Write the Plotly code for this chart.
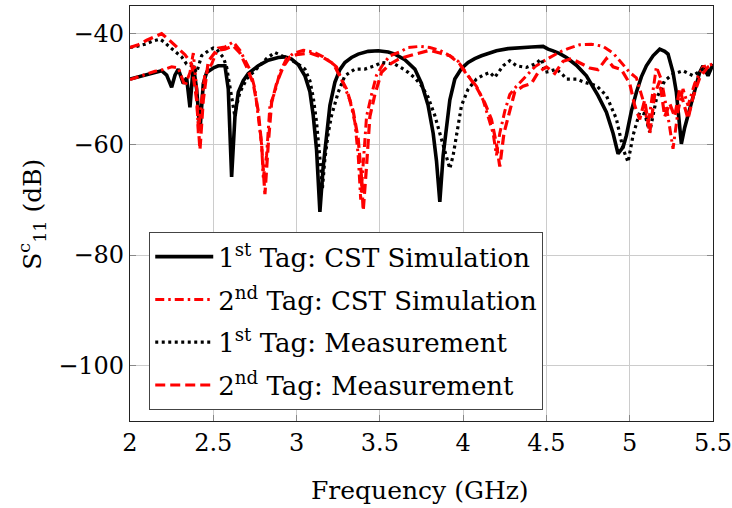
import plotly.graph_objects as go

# ---- data ----
x_cst1 = [2.00,2.05,2.10,2.15,2.19,2.22,2.25,2.27,2.29,2.32,2.34,2.36,2.38,2.40,2.42,2.44,2.46,2.50,2.53,2.57,2.59,2.61,2.63,2.65,2.68,2.71,2.77,2.83,2.89,2.93,2.97,3.01,3.05,3.08,3.10,3.12,3.14,3.16,3.18,3.20,3.23,3.26,3.29,3.33,3.37,3.43,3.49,3.55,3.59,3.65,3.71,3.75,3.79,3.82,3.84,3.86,3.88,3.90,3.92,3.95,3.99,4.03,4.07,4.11,4.16,4.20,4.27,4.34,4.41,4.48,4.51,4.54,4.58,4.62,4.68,4.74,4.78,4.81,4.86,4.90,4.93,4.96,4.98,5.01,5.04,5.07,5.10,5.14,5.18,5.21,5.23,5.26,5.28,5.30,5.31,5.33,5.35,5.38,5.40,5.42,5.44,5.47,5.50]
y_cst1 = [-48.2,-47.8,-47.3,-47.0,-46.7,-47.5,-49.7,-47.5,-46.4,-49.0,-48.0,-53.3,-45.8,-50,-57.5,-49,-47,-46.2,-45.8,-45.8,-50,-65.9,-55,-50.6,-48.5,-47.2,-45.8,-44.8,-44.3,-44.2,-44.6,-45.6,-47.6,-50.5,-54.8,-61,-72.2,-64,-58.4,-53,-48.8,-46.5,-45.2,-44.3,-43.7,-43.2,-43.1,-43.3,-43.7,-44.7,-46.4,-49,-53,-58,-63,-70.4,-62,-56.6,-52,-48.2,-46.3,-45.2,-44.5,-44.0,-43.5,-43.1,-42.7,-42.5,-42.4,-42.3,-42.8,-43.1,-43.6,-44.3,-45.7,-47.6,-49.5,-51.2,-54.2,-58,-61.7,-60.5,-58.4,-54,-50.6,-47.8,-45.8,-44,-42.8,-43.2,-43.7,-47,-50.6,-56,-59.9,-57,-54.8,-51,-48.8,-47,-45.8,-47.6,-45.5]

x_cst2 = [2.00,2.05,2.10,2.15,2.20,2.25,2.29,2.33,2.36,2.38,2.40,2.41,2.43,2.45,2.49,2.53,2.57,2.62,2.66,2.69,2.72,2.75,2.77,2.79,2.80,2.82,2.84,2.87,2.90,2.94,2.98,3.04,3.10,3.16,3.20,3.24,3.28,3.32,3.35,3.37,3.385,3.40,3.42,3.45,3.48,3.52,3.56,3.62,3.67,3.74,3.80,3.86,3.92,3.97,4.00,4.04,4.08,4.12,4.15,4.18,4.20,4.22,4.25,4.28,4.32,4.38,4.43,4.48,4.53,4.58,4.63,4.70,4.77,4.84,4.90,4.96,5.00,5.04,5.08,5.11,5.14,5.16,5.19,5.23,5.26,5.29,5.32,5.35,5.39,5.44,5.50]
y_cst2 = [-48.3,-47.8,-47.2,-46.8,-46.5,-46.0,-46.2,-49.5,-47,-43.5,-50,-58,-52,-47.3,-45.5,-42.6,-42.4,-41.5,-43,-44.8,-46.5,-50,-55,-60,-66,-62,-53,-50.5,-47,-44.5,-43.6,-43,-43.3,-44.2,-45,-46,-49,-52,-56,-62,-70,-64,-55,-51,-47.5,-45.5,-44,-43.3,-42.5,-42.3,-42.5,-43,-44,-45,-46.5,-48,-49.5,-52,-55,-58,-62,-58,-54,-51,-49.5,-47.5,-46,-45,-44.2,-43.3,-42.7,-42,-41.9,-42.3,-43.5,-45.5,-47,-48,-52,-56.6,-50,-46,-48.3,-55,-60.8,-54,-50,-53,-49,-46,-45.5]

x_meas1 = [2.00,2.04,2.09,2.14,2.18,2.21,2.23,2.28,2.31,2.34,2.37,2.40,2.43,2.47,2.50,2.52,2.56,2.58,2.60,2.62,2.63,2.64,2.66,2.70,2.74,2.77,2.82,2.87,2.91,2.95,3.00,3.05,3.08,3.10,3.12,3.14,3.155,3.17,3.19,3.21,3.25,3.29,3.35,3.41,3.47,3.51,3.55,3.59,3.63,3.67,3.71,3.75,3.79,3.83,3.86,3.88,3.90,3.92,3.94,3.96,3.99,4.03,4.08,4.12,4.16,4.19,4.22,4.24,4.28,4.32,4.38,4.43,4.47,4.49,4.52,4.56,4.60,4.62,4.68,4.73,4.80,4.86,4.92,4.96,4.99,5.02,5.06,5.09,5.12,5.14,5.16,5.21,5.26,5.32,5.38,5.44,5.50]
y_meas1 = [-42.5,-42.3,-41.9,-41.3,-41.0,-41.6,-42.2,-43.4,-44.2,-45.5,-45.8,-47,-44,-43.1,-42.6,-42.8,-44.3,-46,-49.4,-53,-55,-53,-50.6,-48.2,-47,-46.2,-44.5,-43.4,-44,-44.6,-45.3,-46.4,-48.5,-51.5,-56,-62.5,-68,-62.6,-58,-54.8,-50.6,-47.6,-46.4,-46.4,-45.8,-45.2,-45.3,-45.5,-46.2,-47,-48,-49.4,-51.5,-54.8,-58,-60.2,-62.5,-64.4,-62,-58.4,-53,-50,-48.2,-47.5,-47,-47.9,-46.5,-45.8,-44.9,-45.8,-46.1,-45.5,-44.6,-47,-46.8,-46.4,-47.5,-48.2,-48.2,-48.8,-49.4,-51.2,-55.4,-60.8,-63.2,-58.4,-54.2,-54.5,-57.8,-55,-51.8,-48.5,-47.3,-46.7,-47.6,-46.4,-46.8]

x_meas2 = [2.00,2.05,2.10,2.15,2.19,2.23,2.28,2.33,2.37,2.40,2.42,2.44,2.47,2.52,2.57,2.62,2.66,2.70,2.74,2.77,2.79,2.81,2.83,2.85,2.88,2.92,2.96,3.00,3.08,3.16,3.22,3.26,3.30,3.34,3.37,3.39,3.40,3.42,3.44,3.47,3.51,3.56,3.62,3.70,3.80,3.86,3.92,3.98,4.03,4.08,4.13,4.17,4.20,4.22,4.245,4.28,4.31,4.36,4.41,4.45,4.50,4.55,4.60,4.65,4.70,4.76,4.81,4.86,4.90,4.95,5.00,5.03,5.06,5.09,5.12,5.15,5.18,5.21,5.24,5.27,5.30,5.33,5.35,5.38,5.42,5.47,5.50]
y_meas2 = [-42.5,-42,-41.2,-40.5,-40.0,-41,-42.5,-43.8,-45.5,-52,-61,-52,-45,-43,-42.8,-42.2,-43.5,-46,-49,-54,-60,-69,-60,-52.5,-49,-46,-44.2,-43.8,-43.5,-44.3,-45.4,-47.6,-50,-54,-59,-66,-72,-64,-55,-51,-47,-45.5,-44.5,-43.8,-43,-43.5,-44,-45.5,-47.6,-49.7,-52.5,-55.5,-60,-64,-58,-54,-50.5,-49.5,-49,-47,-46,-47.2,-45,-44.5,-45.3,-46.2,-46.5,-44.5,-46,-46.5,-49,-53,-55.5,-52,-58,-51,-48.5,-55,-52.6,-55,-50,-53,-55.4,-51.5,-48,-46,-45.5]

names = ["1<sup>st</sup> Tag: CST Simulation",
         "2<sup>nd</sup> Tag: CST Simulation",
         "1<sup>st</sup> Tag: Measurement",
         "2<sup>nd</sup> Tag: Measurement"]

x_ticks = [2, 2.5, 3, 3.5, 4, 4.5, 5, 5.5]
x_ticklabels = ["2", "2.5", "3", "3.5", "4", "4.5", "5", "5.5"]
y_ticks = [-100, -80, -60, -40]
x_title = "Frequency (GHz)"
y_title = "S<sup>c</sup><sub>11</sub> (dB)"

FONT = "DejaVu Serif"
FS_TICK = 24
FS_TITLE = 25
FS_LEG = 26

fig = go.Figure()
fig.add_trace(go.Scatter(x=x_cst1, y=y_cst1, mode="lines", name=names[0], legendgroup="a",
                         line=dict(color="black", width=3.6)))
fig.add_trace(go.Scatter(x=x_cst2, y=y_cst2, mode="lines", name=names[1], legendgroup="b",
                         line=dict(color="red", width=3, dash="9px,4px,2.5px,4px")))
fig.add_trace(go.Scatter(x=x_meas1, y=y_meas1, mode="lines", name=names[2], legendgroup="c",
                         line=dict(color="black", width=3.2, dash="3px,3.5px")))
fig.add_trace(go.Scatter(x=x_meas2, y=y_meas2, mode="lines", name=names[3], legendgroup="d",
                         line=dict(color="red", width=3.2, dash="10px,5px")))

axis_common = dict(showgrid=True, gridcolor="#cccccc", gridwidth=1,
                   showline=True, linecolor="#222222", linewidth=1.2, mirror="allticks",
                   ticks="inside", ticklen=6, tickcolor="#888888", tickwidth=1,
                   zeroline=False, automargin=False, ticklabeloverflow="allow",
                   tickfont=dict(family=FONT, size=FS_TICK, color="black"))

fig.update_xaxes(range=[2, 5.5], tickvals=x_ticks, ticktext=x_ticklabels, **axis_common)
fig.update_yaxes(range=[-110, -35], tickvals=y_ticks, **axis_common)

fig.add_annotation(text=x_title, xref="paper", yref="paper", x=0.497, y=-0.168,
                   xanchor="center", yanchor="middle", showarrow=False,
                   font=dict(family=FONT, size=FS_TITLE, color="black"))
fig.add_annotation(text=y_title, xref="paper", yref="paper", x=-0.168, y=0.497,
                   xanchor="center", yanchor="middle", showarrow=False, textangle=-90,
                   font=dict(family=FONT, size=FS_TITLE, color="black"))

fig.update_layout(
    width=732, height=508,
    margin=dict(l=130, r=19, t=6, b=87, autoexpand=False),
    plot_bgcolor="white", paper_bgcolor="white",
    font=dict(family=FONT, size=FS_TICK, color="black"),
    showlegend=True,
    legend=dict(x=0.033, y=0.455, xanchor="left", yanchor="top",
                bgcolor="white", bordercolor="#444444", borderwidth=1,
                font=dict(family=FONT, size=FS_LEG, color="black"),
                traceorder="grouped", tracegroupgap=6, itemwidth=58),
)

fig.write_html("out.html", config={"displayModeBar": False},
               post_script="document.body.style.margin='0';document.body.style.padding='0';")
